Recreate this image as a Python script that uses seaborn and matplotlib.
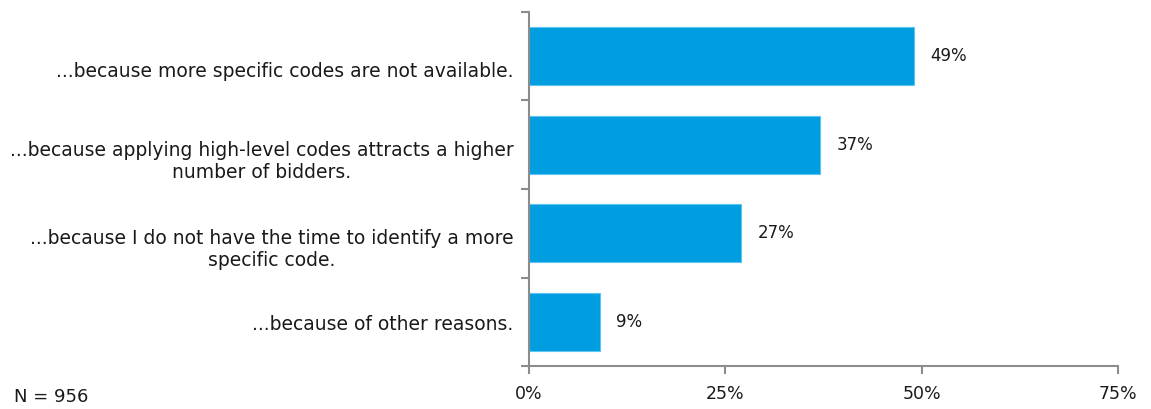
import matplotlib
matplotlib.use("Agg")
import matplotlib.pyplot as plt
import matplotlib.transforms as mtransforms
import seaborn as sns
import pandas as pd
from matplotlib.ticker import FixedLocator, FuncFormatter

reasons = [
    "...because more specific codes are not available.",
    "...because applying high-level codes attracts a higher\nnumber of bidders.",
    "...because I do not have the time to identify a more\nspecific code.",
    "...because of other reasons.",
]
shares = [49, 37, 27, 9]
x_ticks = [0, 25, 50, 75]
note = "N = 956"

sns.set_theme(style="white")
plt.rcParams["font.family"] = ["DejaVu Sans"]

df = pd.DataFrame({"reason": reasons, "share": shares})

fig = plt.figure(figsize=(11.51, 4.09), dpi=100)
ax = fig.add_axes([0.4596, 0.1051, 0.5117, 0.8656])

sns.barplot(data=df, x="share", y="reason", color="#009de0", saturation=1,
            width=0.65, edgecolor="#5cc4f0", linewidth=0.8, ax=ax)

ax.set_xlim(0, 75)
ax.set_ylim(len(reasons) - 0.5, -0.5)
ax.xaxis.set_major_locator(FixedLocator(x_ticks))
ax.xaxis.set_major_formatter(FuncFormatter(lambda v, p: f"{v:.0f}%"))
ax.set_xlabel("")
ax.set_ylabel("")

for s in ["top", "right"]:
    ax.spines[s].set_visible(False)
for s in ["left", "bottom"]:
    ax.spines[s].set_color("#8c8c8c")
    ax.spines[s].set_linewidth(1.5)

ax.tick_params(axis="x", which="major", direction="out", length=6, width=1.5,
               color="#8c8c8c", labelsize=12.5, pad=8, bottom=True)
ax.tick_params(axis="y", which="major", length=0, pad=11, labelsize=13.5, left=True)
ax.yaxis.set_minor_locator(FixedLocator([i - 0.5 for i in range(len(reasons) + 1)]))
ax.tick_params(axis="y", which="minor", direction="out", length=6, width=1.5,
               color="#8c8c8c", left=True)

# category labels sit slightly below the bar centres, as in the original layout
label_shift_px = [13, 13, 13, 1]
for tick, shift in zip(ax.yaxis.get_major_ticks(), label_shift_px):
    lab = tick.label1
    lab.set_multialignment("center")
    lab.set_color("#1a1a1a")
    lab.set_transform(lab.get_transform() +
                      mtransforms.ScaledTranslation(0, -shift / 100, fig.dpi_scale_trans))
for lab in ax.get_xticklabels():
    lab.set_color("#1a1a1a")

for cont in ax.containers:
    ax.bar_label(cont, labels=[f"{v}%" for v in shares], padding=12,
                 fontsize=12, color="#1a1a1a")

fig.text(0.012, 0.008, note, fontsize=13, color="#1a1a1a", ha="left", va="bottom")

fig.savefig("out.png", dpi=100)
